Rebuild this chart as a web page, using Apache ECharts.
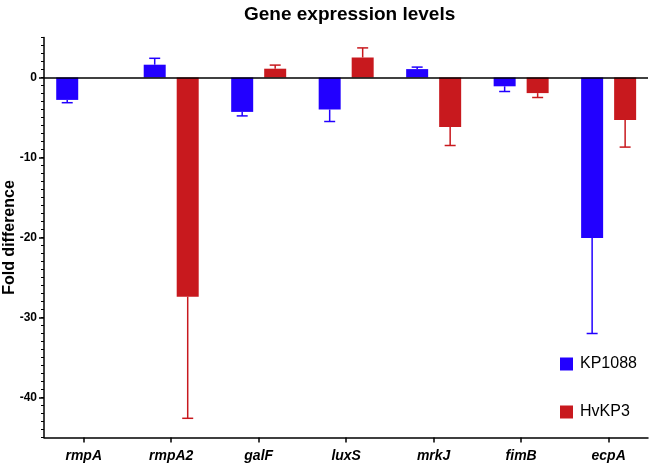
<!DOCTYPE html>
<html>
<head>
<meta charset="utf-8">
<script src="https://cdn.jsdelivr.net/npm/echarts@6/dist/echarts.min.js"></script>
<style>html,body{margin:0;padding:0;background:#fff}#c{width:650px;height:464px}</style>
</head>
<body>
<div id="c"></div>
<script>
const categories = ['rmpA', 'rmpA2', 'galF', 'luxS', 'mrkJ', 'fimB', 'ecpA'];
const kp1088 = [-2.8, 1.6, -4.3, -4.0, 1.05, -1.1, -20.05];
const kp1088Err = [0.35, 0.8, 0.5, 1.5, 0.25, 0.65, 11.95];
const hvkp3 = [null, -27.4, 1.1, 2.5, -6.2, -1.95, -5.3];
const hvkp3Err = [null, 15.2, 0.45, 1.2, 2.3, 0.55, 3.4];
const yLabelValues = [-40, -30, -20, -10, 0];

const BLUE = '#2200ff', RED = '#c8191e';
const BAR_W = 22, BAR_GAP = 11;
const FONT = 'Liberation Sans, Arial, Helvetica, sans-serif';

function barData(vals) {
  return vals.map((v, i) => v == null ? null : [i, v]).filter(d => d);
}
function errData(vals, errs) {
  return vals.map((v, i) => v == null ? null : [i, v, v + (v < 0 ? -errs[i] : errs[i])]).filter(d => d);
}
function errSeries(name, vals, errs, color, side) {
  return {
    type: 'custom', name: name + '_err', silent: true, z: 3,
    data: errData(vals, errs),
    renderItem: function (params, api) {
      const x = api.value(0), v = api.value(1), e = api.value(2);
      const off = side * (BAR_W / 2 + BAR_GAP / 2);
      const p0 = api.coord([x, v]), p1 = api.coord([x, e]);
      const cx = p0[0] + off;
      return {
        type: 'group',
        children: [
          { type: 'line', shape: { x1: cx, y1: p0[1], x2: cx, y2: p1[1] }, style: { stroke: color, lineWidth: 1.5 } },
          { type: 'line', shape: { x1: cx - 5.5, y1: p1[1], x2: cx + 5.5, y2: p1[1] }, style: { stroke: color, lineWidth: 1.5 } }
        ]
      };
    }
  };
}

const chart = echarts.init(document.getElementById('c'), null, { renderer: 'canvas' });
chart.setOption({
  animation: false,
  textStyle: { fontFamily: FONT },
  title: {
    text: 'Gene expression levels', left: 239, top: 0,
    textStyle: { fontFamily: FONT, fontWeight: 'bold', fontSize: 19, color: '#000' }
  },
  legend: {
    orient: 'vertical', left: 555, top: 351, itemWidth: 13, itemHeight: 13, itemGap: 32,
    icon: 'rect', data: ['KP1088', 'HvKP3'],
    textStyle: { fontFamily: FONT, fontSize: 16, color: '#000', padding: [0, 0, 0, 2] }
  },
  grid: { left: 44, right: 2, top: 37.5, bottom: 26.5, containLabel: false, outerBoundsMode: 'none' },
  xAxis: {
    type: 'value', min: -0.454, max: 6.45,
    axisLine: { show: true, onZero: false, lineStyle: { color: '#000', width: 1.5 } },
    axisTick: { show: true, customValues: [0, 1, 2, 3, 4, 5, 6], length: 5, lineStyle: { color: '#000', width: 1.5 } },
    axisLabel: {
      customValues: [0, 1, 2, 3, 4, 5, 6], margin: 12,
      formatter: v => categories[Math.round(v)],
      fontFamily: FONT, fontWeight: 'bold', fontStyle: 'italic', fontSize: 14, color: '#000'
    },
    splitLine: { show: false }
  },
  yAxis: [{
    type: 'value', min: -45, max: 5, interval: 1,
    name: 'Fold difference', nameLocation: 'middle', nameGap: 26, nameRotate: 90, nameMoveOverlap: false,
    nameTextStyle: { fontFamily: FONT, fontWeight: 'bold', fontSize: 16, color: '#000' },
    axisLine: { show: true, onZero: false, lineStyle: { color: '#000', width: 1.5 } },
    axisTick: { show: true, length: 3, lineStyle: { color: '#000', width: 1 } },
    axisLabel: { customValues: yLabelValues, margin: 7, fontFamily: FONT, fontWeight: 'bold', fontSize: 12, color: '#000' },
    splitLine: { show: false }
  }, {
    type: 'value', min: -45, max: 5, position: 'left', offset: 0,
    axisLine: { show: false, onZero: false },
    axisTick: { show: true, customValues: yLabelValues, length: 5, lineStyle: { color: '#000', width: 1.5 } },
    axisLabel: { show: false },
    splitLine: { show: false }
  }],
  series: [
    {
      type: 'bar', name: 'KP1088', data: barData(kp1088), barWidth: BAR_W, barGap: '50%',
      itemStyle: { color: BLUE },
      markLine: {
        silent: true, symbol: 'none', label: { show: false },
        lineStyle: { color: '#000', width: 1.5, type: 'solid' },
        data: [{ yAxis: 0 }]
      }
    },
    {
      type: 'bar', name: 'HvKP3', data: barData(hvkp3), barWidth: BAR_W, barGap: '50%',
      itemStyle: { color: RED }
    },
    errSeries('KP1088', kp1088, kp1088Err, BLUE, -1),
    errSeries('HvKP3', hvkp3, hvkp3Err, RED, 1)
  ]
});
</script>
</body>
</html>
